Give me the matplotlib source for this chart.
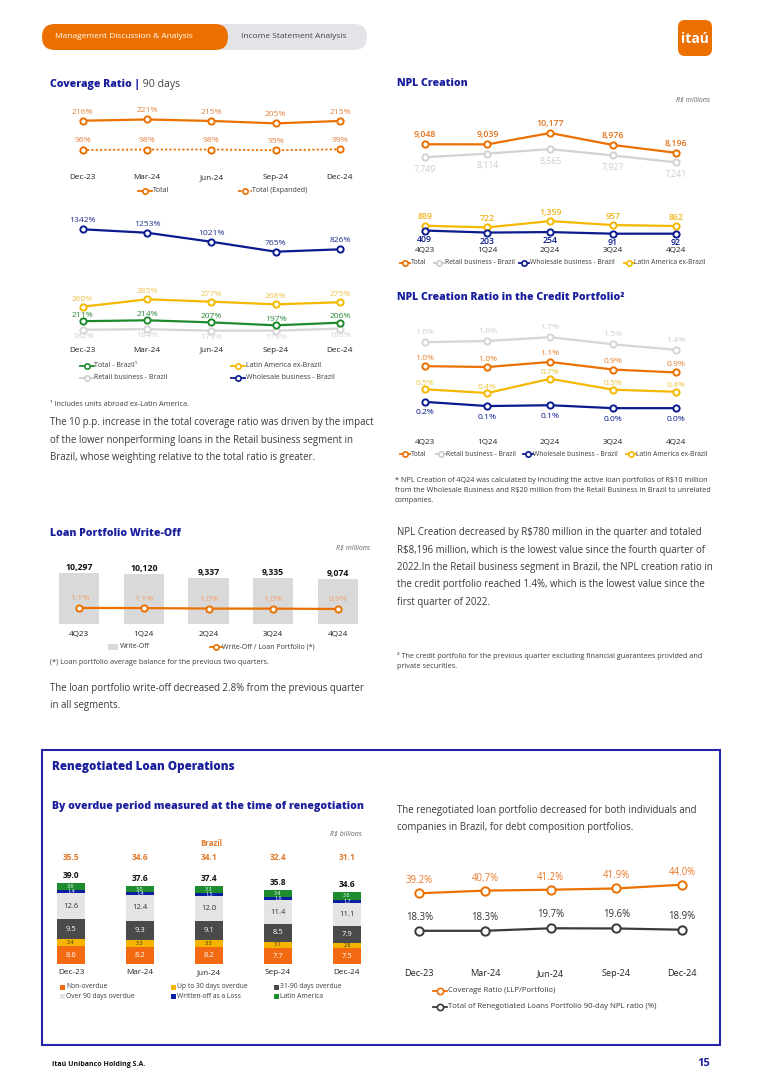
import matplotlib
matplotlib.use('Agg')
import matplotlib.pyplot as plt
from matplotlib.patches import FancyBboxPatch, Rectangle
import numpy as np

plt.rcParams['font.family'] = ['Open Sans', 'DejaVu Sans']

W, H = 766, 1083
ORANGE = '#EC7000'
NAVY = '#0A1A8F'
TITLE = '#1A1F9C'
YELLOW = '#F5B800'
GREEN = '#1E8A2E'
TXT = '#3A3A3A'

# ---- data ----
cov_dates = ['Dec-23', 'Mar-24', 'Jun-24', 'Sep-24', 'Dec-24']
cov_total = [216, 221, 215, 205, 215]
cov_expanded = [96, 98, 98, 95, 99]
cov_wholesale = [1342, 1253, 1021, 765, 826]
cov_latam = [260, 285, 277, 268, 275]
cov_total_brazil = [211, 214, 207, 197, 206]
cov_retail = [182, 184, 179, 179, 186]

quarters = ['4Q23', '1Q24', '2Q24', '3Q24', '4Q24']
npl_total = [9048, 9039, 10177, 8976, 8196]
npl_retail = [7749, 8114, 8565, 7927, 7241]
npl_wholesale = [409, 203, 254, 91, 92]
npl_latam = [889, 722, 1359, 957, 862]

ratio_retail = [1.59, 1.62, 1.71, 1.54, 1.41]
ratio_total = [1.02, 1.00, 1.12, 0.94, 0.87]
ratio_latam = [0.47, 0.38, 0.72, 0.46, 0.41]
ratio_wholesale = [0.17, 0.07, 0.09, 0.02, 0.02]

writeoff = [10297, 10120, 9337, 9335, 9074]
writeoff_ratio = [1.08, 1.06, 0.99, 0.98, 0.93]

reneg_non_overdue = [8.6, 8.2, 8.2, 7.7, 7.5]
reneg_upto30 = [3.4, 3.3, 3.3, 3.1, 2.8]
reneg_31_90 = [9.5, 9.3, 9.1, 8.5, 7.9]
reneg_over90 = [12.6, 12.4, 12.0, 11.4, 11.1]
reneg_written_off = [1.4, 1.4, 1.5, 1.6, 1.7]
reneg_latam = [3.6, 3.0, 3.3, 3.4, 3.6]
reneg_total = [39.0, 37.6, 37.4, 35.8, 34.6]
reneg_brazil = [35.5, 34.6, 34.1, 32.4, 31.1]
reneg_coverage = [39.2, 40.7, 41.2, 41.9, 44.0]
reneg_npl90 = [18.3, 18.3, 19.7, 19.6, 18.9]

fig = plt.figure(figsize=(W / 100, H / 100), dpi=100)
ov = fig.add_axes([0, 0, 1, 1], zorder=-1)
ov.set_xlim(0, W)
ov.set_ylim(H, 0)
ov.axis('off')


def chart(x0, x1, top, bot, v1, p1, v2, p2):
    # axes whose 5 categories sit at x0..x1 px, value v1 at p1 px and v2 at p2 px
    step = (x1 - x0) / 4
    ax = fig.add_axes([(x0 - step / 2) / W, 1 - bot / H, (x1 - x0 + step) / W, (bot - top) / H])
    ax.set_xlim(-0.5, 4.5)
    k = (p2 - p1) / (v1 - v2)
    ax.set_ylim(v1 - (bot - p1) / k, v1 + (p1 - top) / k)
    ax.set_facecolor('none')
    for s in ax.spines.values():
        s.set_visible(False)
    ax.set_yticks([])
    ax.set_xticks([])
    return ax


def xlabels(ax, labels, y, fs=5.9, **kw):
    ax.set_xticks(range(len(labels)), labels, fontsize=fs, color='#222', **kw)
    bot = (1 - ax.get_position().y0) * H
    ax.tick_params(axis='x', length=0, pad=(y - bot - 0.62 * fs * 1.389) * 0.72)


def series(ax, vals, color, lab_color, dy, fmt, fs=6.1, ls='-', ms=4.5, lw=1.6, weight='normal'):
    x = np.arange(len(vals))
    ax.plot(x, vals, linestyle=ls, color=color, lw=lw, marker='o', ms=ms, mfc='white',
            mec=color, mew=1.4, clip_on=False, zorder=3)
    for xi, v in zip(x, vals):
        ax.annotate(fmt(v), (xi, v), xytext=(0, dy * 0.72), textcoords='offset points',
                    ha='center', va='center', fontsize=fs, color=lab_color, fontweight=weight)


def leg(x, y, color, text, ls='-', fs=5.0, half=7, ms=3.8):
    ov.plot([x - half, x + half], [y, y], linestyle=ls, color=color, lw=1.3)
    ov.plot([x], [y], 'o', ms=ms, mfc='white', mec=color, mew=1.2)
    ov.text(x + half + 0.5, y, text, fontsize=fs, va='center', ha='left', color=TXT)


def lines(x, y0, rows, fs=6.9, step=17.3, color=TXT, **kw):
    for i, r in enumerate(rows):
        ov.text(x, y0 + i * step, r, fontsize=fs, va='center', ha='left', color=color, **kw)


def title(x, y, s, fs=7.6, **kw):
    return ov.text(x, y, s, fontsize=fs, fontweight='heavy', color=TITLE, va='center', **kw)


pct0 = lambda v: f'{v:.0f}%'
pct1 = lambda v: f'{v:.1f}%'
thou = lambda v: f'{v:,.0f}'

# ---- header ----
ov.add_patch(FancyBboxPatch((42, 24), 325, 26, boxstyle='round,pad=0,rounding_size=13',
                            fc='#E4E4E8', ec='none'))
ov.add_patch(FancyBboxPatch((42, 24), 186, 26, boxstyle='round,pad=0,rounding_size=13',
                            fc=ORANGE, ec='none'))
ov.text(55, 37, 'Management Discussion & Analysis', fontsize=6.0, color='white', va='center')
ov.text(241, 37, 'Income Statement Analysis', fontsize=6.0, color='#444', va='center')
ov.add_patch(FancyBboxPatch((678, 20), 34, 36, boxstyle='round,pad=0,rounding_size=7',
                            fc=ORANGE, ec='none'))
ov.text(695, 39, 'itaú', fontsize=10, color='white', fontweight='bold', ha='center', va='center')

# ---- coverage ratio ----
t = title(50, 84, 'Coverage Ratio |')
ov.annotate(' 90 days', xy=(1, 0.5), xycoords=t, fontsize=7.6, color='#444', va='center')

ax = chart(82.7, 340, 100, 165, 216, 120.7, 96, 150)
series(ax, cov_total, ORANGE, '#E5823E', 8.5, pct0)
series(ax, cov_expanded, ORANGE, '#E5823E', 9, pct0, ls=(0, (1.2, 1.2)), lw=1.3)
xlabels(ax, cov_dates, 179)
leg(145, 190.5, ORANGE, 'Total')
leg(245, 190.5, ORANGE, 'Total (Expanded)', ls=(0, (2, 1.5)))

ax = chart(82.7, 340, 205, 262, 1342, 229.3, 765, 251.7)
series(ax, cov_wholesale, NAVY, '#24308A', 8.6, pct0)

ax = chart(82.7, 340, 285, 340, 285, 299.3, 214, 320.3)
series(ax, cov_retail, '#D6D6D6', '#D2D2D2', -6.7, pct0)
series(ax, cov_latam, YELLOW, '#F1C24E', 7.4, pct0)
series(ax, cov_total_brazil, GREEN, '#2C8A3A', 5.7, pct0)
xlabels(ax, cov_dates, 351.7)
leg(86.7, 365.7, GREEN, 'Total - Brazil¹')
leg(238, 365.7, YELLOW, 'Latin America ex-Brazil')
leg(86.7, 377.7, '#CFCFCF', 'Retail business - Brazil')
leg(238, 377.7, NAVY, 'Wholesale business - Brazil')

ov.text(50, 404, '¹ Includes units abroad ex-Latin America.', fontsize=5.2, color=TXT, va='center')
lines(50, 423, ['The 10 p.p. increase in the total coverage ratio was driven by the impact',
                'of the lower nonperforming loans in the Retail business segment in',
                'Brazil, whose weighting relative to the total ratio is greater.'])

# ---- NPL creation ----
title(397, 84, 'NPL Creation')
ov.text(710, 100, 'R$ millions', fontsize=5.0, color='#666', style='italic', ha='right', va='center')
ax = chart(424.7, 675.7, 110, 245, 10177, 133, 91, 233.7)
series(ax, npl_retail, '#D2D2D2', '#CDCDCD', -12, thou, fs=6.3)
series(ax, npl_total, ORANGE, '#E2711A', 9.5, thou, fs=6.3, weight='semibold')
series(ax, npl_latam, YELLOW, '#EDB520', 9, thou, fs=6.3, weight='semibold')
series(ax, npl_wholesale, NAVY, NAVY, -8.5, thou, fs=6.3, weight='semibold')
xlabels(ax, quarters, 252)
leg(405, 262.7, ORANGE, 'Total', half=5, fs=4.9)
leg(439.3, 262.7, '#CCCCCC', 'Retail business - Brazil', half=5, fs=4.9)
leg(524.3, 262.7, NAVY, 'Wholesale business - Brazil', half=5, fs=4.9)
leg(628.7, 262.7, YELLOW, 'Latin America ex-Brazil', half=5, fs=4.9)

# ---- NPL creation ratio ----
title(397, 297, 'NPL Creation Ratio in the Credit Portfolio²')
ax = chart(424.7, 675.7, 320, 420, 1.0, 409 - 42, 0.0, 409)
series(ax, ratio_retail, '#D6D6D6', '#CFCFCF', 9.5, pct1)
series(ax, ratio_total, ORANGE, '#E5802E', 8, pct1)
series(ax, ratio_latam, YELLOW, '#EDC23A', 6, pct1)
series(ax, ratio_wholesale, NAVY, NAVY, -11, pct1)
xlabels(ax, quarters, 444)
leg(405, 454.3, ORANGE, 'Total', half=5, fs=4.9)
leg(440.7, 454.3, '#CCCCCC', 'Retail business - Brazil', half=5, fs=4.9)
leg(527.7, 454.3, NAVY, 'Wholesale business - Brazil', half=5, fs=4.9)
leg(630.7, 454.3, YELLOW, 'Latin America ex-Brazil', half=5, fs=4.9)
lines(395, 480, ['* NPL Creation of 4Q24 was calculated by including the active loan portfolios of R$10 million',
                 'from the Wholesale Business and R$20 million from the Retail Business in Brazil to unrelated',
                 'companies.'], fs=5.2, step=10.5)

# ---- right text ----
lines(397, 533, ['NPL Creation decreased by R$780 million in the quarter and totaled',
                 'R$8,196 million, which is the lowest value since the fourth quarter of',
                 '2022.In the Retail business segment in Brazil, the NPL creation ratio in',
                 'the credit portfolio reached 1.4%, which is the lowest value since the',
                 'first quarter of 2022.'])
lines(397, 656, ['² The credit portfolio for the previous quarter excluding financial guarantees provided and',
                 'private securities.'], fs=5.2, step=10.5)

# ---- write-off ----
title(50, 533, 'Loan Portfolio Write-Off')
ov.text(370, 548, 'R$ millions', fontsize=5.0, color='#666', style='italic', ha='right', va='center')
ax = chart(79.3, 337.7, 556, 624, 10297, 573, 0, 624)
xb = np.arange(5)
ax.bar(xb, writeoff, width=0.62, color='#D9D9D9', zorder=1)
for xi, v in zip(xb, writeoff):
    ax.annotate(thou(v), (xi, v), xytext=(0, 5.5 * 0.72), textcoords='offset points',
                ha='center', va='center', fontsize=6.3, fontweight='bold', color='#111')
xlabels(ax, quarters, 636)
ax2 = ax.twinx()
ax2.set_ylim(1.07 - (624 - 608) / 7, 1.07 + (608 - 556) / 7)
ax2.set_yticks([])
for s in ax2.spines.values():
    s.set_visible(False)
series(ax2, writeoff_ratio, ORANGE, '#F0A068', 9, pct1)
ov.add_patch(Rectangle((108, 644), 10, 6, fc='#D9D9D9', ec='none'))
ov.text(119.5, 647, 'Write-Off', fontsize=5.0, va='center', color=TXT)
leg(215.5, 647, ORANGE, 'Write-Off / Loan Portfolio (*)', half=6)
ov.text(50, 663, '(*) Loan portfolio average balance for the previous two quarters.', fontsize=5.2,
        color=TXT, va='center')
lines(50, 688, ['The loan portfolio write-off decreased 2.8% from the previous quarter',
                'in all segments.'])

# ---- renegotiated ----
ov.add_patch(Rectangle((42, 750), 678, 295, fill=False, ec='#2424A6', lw=1.5))
title(52, 767, 'Renegotiated Loan Operations', fs=8.4)
title(52, 806, 'By overdue period measured at the time of renegotiation')
ov.text(362, 834, 'R$ billions', fontsize=5.0, color='#666', style='italic', ha='right', va='center')
ov.text(211, 843.5, 'Brazil', fontsize=5.6, color='#E0792A', fontweight='bold', ha='center', va='center')

ax = chart(71, 347, 840, 964, 39.0, 883, 0, 964)
stack = [(reneg_non_overdue, '#F26B12', 'white', 'Non-overdue'),
         (reneg_upto30, '#F5B400', '#333', 'Up to 30 days overdue'),
         (reneg_31_90, '#4A4A4A', 'white', '31-90 days overdue'),
         (reneg_over90, '#E4E4E4', '#333', 'Over 90 days overdue'),
         (reneg_written_off, '#0A1FA3', 'white', 'Written-off as a Loss'),
         (reneg_latam, '#1D8C2E', 'white', 'Latin America')]
base = np.zeros(5)
for vals, col, tcol, name in stack:
    ax.bar(xb, vals, width=0.41, bottom=base, color=col, zorder=2)
    fs = 5.5 if max(vals) > 5 else 3.9
    for xi, b, v in zip(xb, base, vals):
        ax.text(xi, b + v / 2, f'{v:.1f}', ha='center', va='center', fontsize=fs, color=tcol, zorder=3)
    base = base + np.array(vals)
for xi, v in zip(xb, reneg_total):
    ax.annotate(f'{v:.1f}', (xi, v), xytext=(0, 7.5 * 0.72), textcoords='offset points',
                ha='center', va='center', fontsize=6.0, fontweight='bold', color='#111')
tr = ax.get_xaxis_transform()
for xi, v in zip(xb, reneg_brazil):
    ax.text(xi, (964 - 857.3) / (964 - 840), f'{v:.1f}', transform=tr, ha='center', va='center',
            fontsize=6.0, fontweight='bold', color='#E0792A')
xlabels(ax, cov_dates, 974)
legpos = [(62, 987), (173, 987), (276, 987), (62, 996.5), (173, 996.5), (276, 996.5)]
for (lx, ly), (vals, col, tcol, name) in zip(legpos, stack):
    ov.add_patch(Rectangle((lx - 2.5, ly - 2.5), 5, 5, fc=col, ec='none'))
    ov.text(lx + 4, ly, name, fontsize=4.9, va='center', color=TXT)

lines(397, 810, ['The renegotiated loan portfolio decreased for both individuals and',
                 'companies in Brazil, for debt composition portfolios.'])

ax = chart(419.3, 682, 860, 945, 39.2, 893.3, 18.3, 930.8)
series(ax, reneg_coverage, ORANGE, '#E8782A', 12.5, pct1, fs=6.9, ms=6)
series(ax, reneg_npl90, '#3A3A3A', '#333', 13.5, pct1, fs=6.9, ms=6)
xlabels(ax, cov_dates, 975, fs=6.6)
leg(440, 990.7, ORANGE, 'Coverage Ratio (LLP/Portfolio)', fs=5.6, half=7, ms=4.5)
leg(440, 1006.7, '#3A3A3A', 'Total of Renegotiated Loans Portfolio 90-day NPL ratio (%)', fs=5.6, half=7, ms=4.5)

# ---- footer ----
ov.text(52, 1064, 'Itaú Unibanco Holding S.A.', fontsize=5.0, fontweight='bold', color='#111', va='center')
ov.text(710, 1064, '15', fontsize=8, fontweight='bold', color=TITLE, ha='right', va='center')

fig.savefig('out.png', dpi=100)
